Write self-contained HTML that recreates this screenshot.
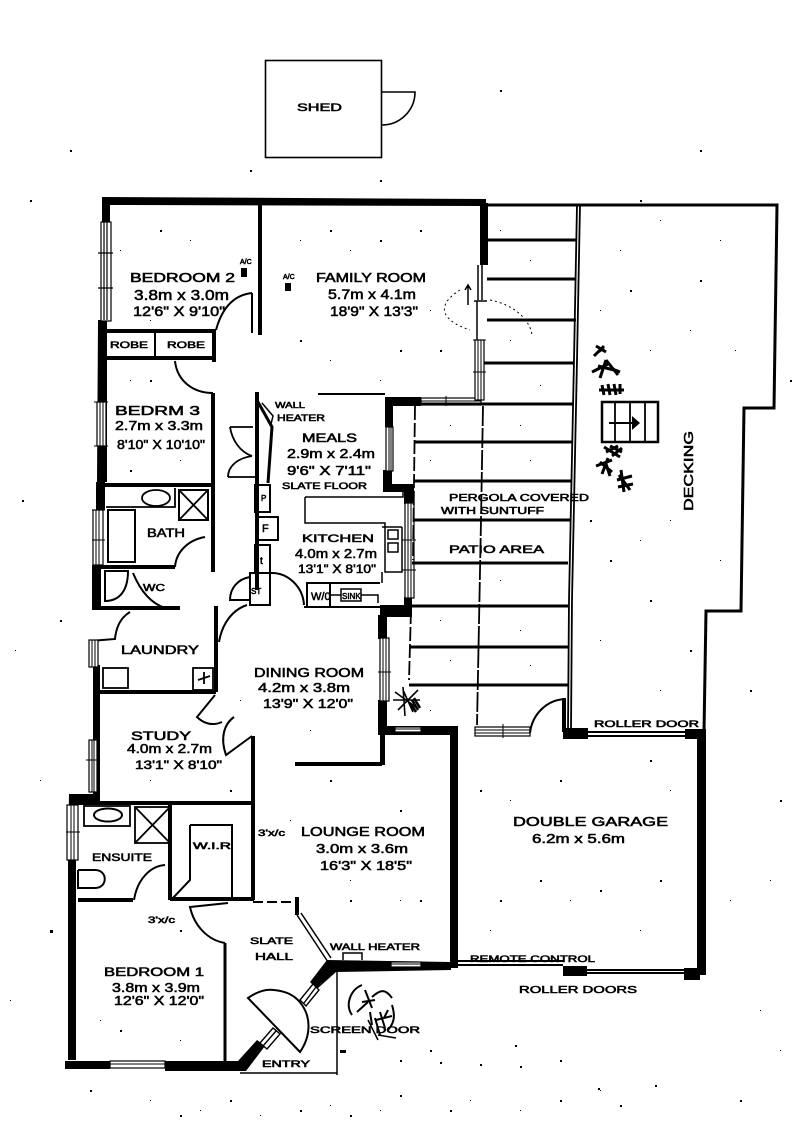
<!DOCTYPE html>
<html><head><meta charset="utf-8"><title>Floor plan</title>
<style>
html,body{margin:0;padding:0;background:#fff}
svg{display:block}
text{font-family:"Liberation Sans",sans-serif;font-weight:normal;fill:#000;stroke:#000;stroke-width:.55;text-anchor:start}
.w{fill:none;stroke:#000}
.win{fill:#fff;stroke:#000;stroke-width:1.2}
</style></head><body>
<svg xmlns="http://www.w3.org/2000/svg" width="800" height="1124" viewBox="0 0 800 1124">
<rect width="800" height="1124" fill="#fff"/>

<!-- shed -->
<g class="w" stroke-width="1.600">
<rect x="265.500" y="60.500" width="116" height="97"/>
<path d="M382 92H415A33 33 0 0 1 382 125"/>
</g>
<text x="297" y="111" font-size="11" textLength="45" lengthAdjust="spacingAndGlyphs">SHED</text>

<!-- thick outer walls -->
<g fill="#000">
<path d="M102 197L486 199V206L110 205V222H102Z"/>
<rect x="480" y="203" width="8" height="62"/>
<path d="M98 320H107V482H97Z"/>
<rect x="96" y="482" width="9" height="28"/>
<rect x="92" y="565" width="9" height="45"/>
<path d="M93 665H100V795H93Z"/>
<path d="M69 794H100V803H77V860H68Z"/>
<path d="M68 860H76V1060H68Z"/>
<path d="M65 1061H110V1069H65Z"/>
<path d="M165 1061H238L257 1040L265 1046L246 1071H165Z"/>
<path d="M327 960L451 962V970L336 972L317 989L310 982Z"/>
<rect x="450" y="733" width="8" height="235"/>
<rect x="378" y="726" width="80" height="9"/>
<rect x="378" y="700" width="9" height="30"/>
<rect x="378" y="615" width="9" height="24"/>
<path d="M380 605H412V617H380Z"/>
<rect x="404" y="490" width="9" height="14"/>
<rect x="404" y="597" width="8" height="12"/>
<path d="M383 470H392V484H414V492H383Z"/>
<rect x="385" y="405" width="8" height="22"/>
<path d="M385 397H421V406H385Z"/>
<rect x="563" y="728" width="25" height="11"/>
<rect x="685" y="729" width="21" height="10"/>
<rect x="697" y="735" width="9" height="240"/>
<rect x="563" y="966" width="24" height="10"/>
<rect x="684" y="968" width="16" height="12"/>
<rect x="295" y="762" width="87" height="4"/>
<rect x="380" y="735" width="5" height="30"/>
</g>

<!-- interior walls -->
<g class="w" stroke-width="4">
<path d="M260 205V335"/>
<path d="M105 331H216"/>
<path d="M107 358H216"/>
<path d="M214 330V362"/>
<path d="M213 393V572"/>
<path d="M102 485H213"/>
<path d="M92 567H175"/>
<path d="M95 608H180"/>
<path d="M100 692H216"/>
<path d="M216 606V692"/>
<path d="M70 803H254"/>
<path d="M253 736V900"/>
<path d="M170 804V900"/>
<path d="M170 899H254"/>
<path d="M78 900H133"/>
<path d="M297 897V915"/>
<path d="M257 392V590"/>
</g>

<!-- thin structure lines -->
<g class="w" stroke-width="2">
<path d="M155 332V357"/>
<path d="M252 293V333"/>
<path d="M216 330C222 308 234 295 252 293"/>
<path d="M175 361C177 380 192 393 213 393"/>
<path d="M175 567C176 552 188 540 205 537"/>
<path d="M133 573C140 590 150 603 165 608"/>
<path d="M247 605C232 610 222 624 219 642"/>
<path d="M130 612C120 618 116 628 115 639L90 641"/>
<path d="M215 695L197 717C204 724 213 726 222 722"/>
<path d="M234 717C224 724 220 738 226 755L252 736"/>
<path d="M190 825H232V900"/>
<path d="M190 825V880L172 899"/>
<path d="M134 900C137 880 150 866 165 865"/>
<path d="M228 903L190 907C194 925 207 940 225 943"/>
<path d="M225 943V1061" stroke-width="3"/>
<path d="M253 902H297" stroke-dasharray="10 4"/>
<path d="M297 915L328 962M301 913L331 958" stroke-width="1.500"/>
<path d="M337 972V1075M240 1073H337" stroke-width="1.500"/>
<path d="M343 960V953H362V960" stroke-width="1.500"/>
<path d="M318 394H385" stroke-width="2"/>
<path d="M258 402L272 427L268 483" stroke-width="3"/>
<path d="M262 403L273 416L271 424" stroke-width="1.500"/>
<path d="M230 427H253M230 427C232 440 240 452 252 456M228 477C228 466 238 458 252 456M228 477H255" stroke-width="1.800"/>
<rect x="255" y="485" width="15" height="27"/>
<rect x="257" y="517" width="21" height="23"/>
<rect x="255" y="545" width="15" height="28"/>
<path d="M250 573H270V605H250Z"/>
<path d="M250 577C238 579 230 588 230 600H250"/>
<path d="M270 573C288 572 303 587 304 605"/>
<path d="M304 607H380M307 583H380"/>
<rect x="307" y="583" width="23" height="24"/>
<rect x="341" y="589" width="20" height="12" stroke-width="1.500"/>
<path d="M330 595H341M361 595H378V603" stroke-width="1.500"/>
<path d="M305 497H403V490M305 497V523H385V572H402V527" stroke-width="1.500"/>
<path d="M382 527H402M382 572V583" stroke-width="1.500"/>
<rect x="388" y="530" width="10" height="9" stroke-width="1.500"/>
<rect x="388" y="543" width="10" height="9" stroke-width="1.500"/>
</g>

<!-- bathrooms -->
<g class="w" stroke-width="1.800">
<path d="M106 507H175V488"/>
<ellipse cx="156" cy="498" rx="14" ry="8"/>
<rect x="179" y="490" width="29" height="30" stroke-width="2"/>
<path d="M179 490L208 520M208 490L179 520"/>
<rect x="108" y="510" width="27" height="52" stroke-width="2"/>
<path d="M105 571H128C128 590 120 601 105 601Z" stroke-width="2"/>
<rect x="103" y="668" width="25" height="20"/>
<rect x="193" y="668" width="20" height="22"/>
<path d="M198 680L210 676M204 672V684"/>
<rect x="84" y="806" width="46" height="20"/>
<ellipse cx="108" cy="815" rx="14" ry="6.500" stroke-width="2"/>
<rect x="135" y="807" width="35" height="36"/>
<path d="M135 843L170 807M135 807L170 843"/>
<path d="M78 870H95C108 870 108 888 95 888H78V870" stroke-width="2"/>
</g>

<!-- windows -->
<g>
<rect class="win" x="101" y="222" width="10" height="99"/>
<path d="M104 222V320M107 222V320M98 253H113M98 288H113" stroke="#000" stroke-width="1.200"/>
<rect class="win" x="97" y="402" width="9" height="44"/>
<path d="M100 402V446M103 402V446M94 402H108M94 446H108" stroke="#000"/>
<rect class="win" x="93" y="510" width="10" height="55"/>
<path d="M96 510V565M99 510V565M92 540H105M92 510H105" stroke="#000"/>
<rect class="win" x="89" y="640" width="9" height="27"/>
<path d="M92 640V667M95 640V667" stroke="#000"/>
<rect class="win" x="89" y="740" width="8" height="52"/>
<path d="M92 740V792M94 740V792M86 760H100" stroke="#000"/>
<rect class="win" x="67" y="805" width="11" height="55"/>
<path d="M71 805V860M74 805V860M66 832H80" stroke="#000"/>
<rect class="win" x="110" y="1061" width="55" height="7"/>
<path d="M110 1064H165" stroke="#000"/>
<rect class="win" x="386" y="427" width="7" height="44"/>
<path d="M389 427V471M391 427V471" stroke="#000"/>
<rect class="win" x="405" y="503" width="9" height="95"/>
<path d="M408 503V598M411 503V598M402 540H416M402 570H416" stroke="#000"/>
<rect class="win" x="380" y="638" width="9" height="63"/>
<path d="M383 638V701M386 638V701M378 672H391" stroke="#000"/>
<rect class="win" x="421" y="398" width="60" height="7"/>
<path d="M421 401H481M446 396V406" stroke="#000"/>
<rect class="win" x="475" y="340" width="9" height="60"/>
<path d="M478 340V400M481 340V400M473 340H486M473 372H486" stroke="#000"/>
<path d="M478 265V300M482 265V300M474 301H487M477 301V340" fill="none" stroke="#000" stroke-width="1.500"/>
<rect class="win" x="395" y="727" width="26" height="5"/>
<path d="M395 729H421" stroke="#000"/>
<rect class="win" x="475" y="727" width="55" height="9"/>
<path d="M475 730H530M475 733H530M503 724V738" stroke="#000"/>
<rect class="win" x="391" y="962" width="30" height="5"/>
<path d="M391 964H421" stroke="#000"/>
<path d="M300 1000L313 984L319 990L306 1006Z M304 1003L316 987" fill="#fff" stroke="#000" stroke-width="1.400"/>
<path d="M260 1043L273 1028L280 1034L267 1049Z M263 1046L276 1031" fill="#fff" stroke="#000" stroke-width="1.400"/>
<path d="M248 998C258 991 266 989 274 990C286 991 296 996 302 1005C311 1018 311 1036 300 1052Z" fill="none" stroke="#000" stroke-width="2"/>
<path d="M587 732H685M587 736H685" stroke="#000" stroke-width="2"/>
<path d="M458 961H563M458 965H563M587 970H685M587 973H685" stroke="#000" stroke-width="2"/>
</g>

<!-- pergola -->
<g class="w" stroke-width="3">
<path d="M487 240H577M487 279H576M487 320H576M484 363H574"/>
<path d="M421 404H573M414 442H572M414 481H571M414 520H570"/>
<path d="M412 563H568M411 606H568M410 647H568M409 685H568"/>
</g>
<g class="w" stroke-width="1.800">
<path d="M577 205L574 360L569 600L568 730"/>
<path d="M580 205L577 360L572 600L571 730"/>
<path d="M415 406L413 560M411 610L409 680" stroke-dasharray="14 3"/>
<path d="M483 406L481 520L477 725" stroke-dasharray="20 2"/>
<path d="M486 205H777L774 408H744L741 611H706L704 732" stroke-width="3"/>
<path d="M530 733C532 715 546 700 565 699V732M563 698V732" stroke-width="2"/>
<path d="M468 286V305M465 290L468 285L471 290" stroke-width="1.500"/>
<path d="M460 290C436 305 440 320 470 330" stroke-width="1" stroke-dasharray="2 3"/>
<path d="M490 300C515 305 530 320 532 335" stroke-width="1" stroke-dasharray="2 3"/>
</g>

<!-- stairs -->
<g class="w" stroke-width="2.500">
<rect x="602" y="402" width="56" height="40"/>
<path d="M615 402V442M630 402V442M645 402V442" stroke-width="1.800"/>
<path d="M609 423H632" stroke-width="2"/>
</g>
<path d="M632 416L640 423L632 430Z" fill="#000"/>

<!-- plants -->
<g class="w" stroke-width="3">
<path d="M594 356L604 346M596 346L606 352M598 352L604 348"/>
<path d="M592 372L608 364M600 378L606 360M606 360L618 375M610 368L620 372M598 366L614 370"/>
<path d="M599 390L624 390M602 385L604 395M608 384L610 395M614 384L616 395M620 384L620 394"/>
<path d="M604 447L620 457M610 446L622 452M606 452L618 446M612 456L622 448"/>
<path d="M596 466L612 460M602 474L608 458M600 462L612 472M606 464L610 476"/>
<path d="M621 470L624 492M617 480L632 476M618 487L633 484M619 475L630 490"/>
<path d="M393 700L420 700M403 690L413 712M398 710L418 690M403 687L405 716M395 692L417 708" stroke-width="1.600"/>
<path d="M410 703L416 712M412 700L418 710M414 698L420 708" stroke-width="2.500"/>
<path d="M362 985C350 990 345 1005 352 1015M372 997C380 990 385 988 392 998M380 1012L385 1028M357 1012L368 1002M365 990L372 1008M362 1002L375 1000M370 1012L372 1025M376 1020L392 1016M384 1018L388 1010M375 1018L380 1035M392 1005C395 1015 395 1022 388 1030" stroke-width="2"/>
<path d="M368 1020L378 1040M378 1035L396 1038" stroke-width="1.500"/>
</g>

<!-- labels -->
<text x="130" y="282" font-size="13" textLength="105" lengthAdjust="spacingAndGlyphs">BEDROOM 2</text>
<text x="134" y="300" font-size="15" textLength="95" lengthAdjust="spacingAndGlyphs">3.8m x 3.0m</text>
<text x="133" y="316" font-size="14" textLength="92" lengthAdjust="spacingAndGlyphs">12'6" X 9'10"</text>
<text x="110" y="348" font-size="9" textLength="38" lengthAdjust="spacingAndGlyphs">ROBE</text>
<text x="167" y="348" font-size="9" textLength="38" lengthAdjust="spacingAndGlyphs">ROBE</text>
<text x="316" y="282" font-size="13" textLength="110" lengthAdjust="spacingAndGlyphs">FAMILY ROOM</text>
<text x="328" y="299" font-size="14" textLength="88" lengthAdjust="spacingAndGlyphs">5.7m x 4.1m</text>
<text x="330" y="316" font-size="14" textLength="88" lengthAdjust="spacingAndGlyphs">18'9" X 13'3"</text>
<text x="115" y="415" font-size="13" textLength="85" lengthAdjust="spacingAndGlyphs">BEDRM 3</text>
<text x="115" y="430" font-size="13" textLength="88" lengthAdjust="spacingAndGlyphs">2.7m x 3.3m</text>
<text x="117" y="449" font-size="13" textLength="88" lengthAdjust="spacingAndGlyphs">8'10" X 10'10"</text>
<text x="147" y="537" font-size="12" textLength="38" lengthAdjust="spacingAndGlyphs">BATH</text>
<text x="143" y="591" font-size="10" textLength="22" lengthAdjust="spacingAndGlyphs">WC</text>
<text x="121" y="654" font-size="12" textLength="78" lengthAdjust="spacingAndGlyphs">LAUNDRY</text>
<text x="275" y="408" font-size="8" textLength="30" lengthAdjust="spacingAndGlyphs">WALL</text>
<text x="277" y="421" font-size="9" textLength="48" lengthAdjust="spacingAndGlyphs">HEATER</text>
<text x="302" y="442" font-size="12" textLength="55" lengthAdjust="spacingAndGlyphs">MEALS</text>
<text x="287" y="458" font-size="13" textLength="88" lengthAdjust="spacingAndGlyphs">2.9m x 2.4m</text>
<text x="287" y="475" font-size="13" textLength="84" lengthAdjust="spacingAndGlyphs">9'6" X 7'11"</text>
<text x="282" y="489" font-size="9" textLength="85" lengthAdjust="spacingAndGlyphs">SLATE FLOOR</text>
<text x="302" y="542" font-size="11" textLength="72" lengthAdjust="spacingAndGlyphs">KITCHEN</text>
<text x="295" y="558" font-size="13" textLength="82" lengthAdjust="spacingAndGlyphs">4.0m x 2.7m</text>
<text x="298" y="573" font-size="12" textLength="78" lengthAdjust="spacingAndGlyphs">13'1" X 8'10"</text>
<text x="261" y="501" font-size="8">P</text>
<text x="262" y="532" font-size="11">F</text>
<text x="260" y="564" font-size="10">t</text>
<text x="251" y="594" font-size="8">ST</text>
<text x="311" y="600" font-size="11">W/0</text>
<text x="342" y="599" font-size="8">SINK</text>
<text x="254" y="677" font-size="13" textLength="110" lengthAdjust="spacingAndGlyphs">DINING ROOM</text>
<text x="258" y="692" font-size="13" textLength="92" lengthAdjust="spacingAndGlyphs">4.2m x 3.8m</text>
<text x="263" y="708" font-size="13" textLength="90" lengthAdjust="spacingAndGlyphs">13'9" X 12'0"</text>
<text x="131" y="740" font-size="12" textLength="60" lengthAdjust="spacingAndGlyphs">STUDY</text>
<text x="127" y="753" font-size="13" textLength="85" lengthAdjust="spacingAndGlyphs">4.0m x 2.7m</text>
<text x="135" y="769" font-size="12" textLength="87" lengthAdjust="spacingAndGlyphs">13'1" X 8'10"</text>
<text x="92" y="861" font-size="11" textLength="60" lengthAdjust="spacingAndGlyphs">ENSUITE</text>
<text x="193" y="849" font-size="9" textLength="38" lengthAdjust="spacingAndGlyphs">W.I.R</text>
<text x="301" y="836" font-size="13" textLength="124" lengthAdjust="spacingAndGlyphs">LOUNGE ROOM</text>
<text x="316" y="853" font-size="13" textLength="92" lengthAdjust="spacingAndGlyphs">3.0m x 3.6m</text>
<text x="320" y="870" font-size="13" textLength="92" lengthAdjust="spacingAndGlyphs">16'3" X 18'5"</text>
<text x="258" y="836" font-size="9" textLength="27" lengthAdjust="spacingAndGlyphs">3'x/c</text>
<text x="148" y="923" font-size="9" textLength="27" lengthAdjust="spacingAndGlyphs">3'x/c</text>
<text x="250" y="944" font-size="9" textLength="43" lengthAdjust="spacingAndGlyphs">SLATE</text>
<text x="255" y="960" font-size="10" textLength="38" lengthAdjust="spacingAndGlyphs">HALL</text>
<text x="330" y="950" font-size="9" textLength="90" lengthAdjust="spacingAndGlyphs">WALL HEATER</text>
<text x="104" y="976" font-size="12" textLength="100" lengthAdjust="spacingAndGlyphs">BEDROOM 1</text>
<text x="112" y="992" font-size="13" textLength="88" lengthAdjust="spacingAndGlyphs">3.8m x 3.9m</text>
<text x="114" y="1005" font-size="13" textLength="90" lengthAdjust="spacingAndGlyphs">12'6" X 12'0"</text>
<text x="310" y="1033" font-size="9" textLength="110" lengthAdjust="spacingAndGlyphs">SCREEN DOOR</text>
<text x="262" y="1067" font-size="9" textLength="48" lengthAdjust="spacingAndGlyphs">ENTRY</text>
<text x="513" y="826" font-size="13" textLength="155" lengthAdjust="spacingAndGlyphs">DOUBLE GARAGE</text>
<text x="532" y="843" font-size="13" textLength="93" lengthAdjust="spacingAndGlyphs">6.2m x 5.6m</text>
<text x="594" y="727" font-size="9" textLength="105" lengthAdjust="spacingAndGlyphs">ROLLER DOOR</text>
<text x="470" y="962" font-size="9" textLength="125" lengthAdjust="spacingAndGlyphs">REMOTE CONTROL</text>
<text x="519" y="993" font-size="10" textLength="118" lengthAdjust="spacingAndGlyphs">ROLLER DOORS</text>
<text x="449" y="501" font-size="10" textLength="140" lengthAdjust="spacingAndGlyphs">PERGOLA COVERED</text>
<text x="441" y="514" font-size="10" textLength="103" lengthAdjust="spacingAndGlyphs">WITH SUNTUFF</text>
<text x="449" y="553" font-size="11" textLength="95" lengthAdjust="spacingAndGlyphs">PATIO AREA</text>
<text transform="translate(693,511) rotate(-90)" font-size="13" textLength="80" lengthAdjust="spacingAndGlyphs">DECKING</text>
<text x="240" y="264" font-size="7">A/C</text>
<text x="283" y="279" font-size="7">A/C</text>
<rect x="241" y="268" width="6" height="9" fill="#000"/>
<rect x="285" y="283" width="6" height="8" fill="#000"/>

<!-- speckle -->
<path fill="#000" d="M70 150h2v2h-2zM30 200h2v2h-2zM380 180h2v2h-2zM700 150h2v2h-2zM22 500h2v2h-2zM60 620h2v2h-2zM50 930h3v3h-3zM780 800h2v2h-2zM740 1100h2v2h-2zM400 1095h2v2h-2zM300 1110h2v2h-2zM180 1115h2v2h-2zM560 1100h2v2h-2zM620 1105h2v2h-2zM655 1085h2v2h-2zM598 1088h2v2h-2zM515 1045h2v2h-2zM430 1050h2v2h-2zM790 380h2v2h-2zM750 690h2v2h-2zM640 200h2v2h-2zM250 170h2v2h-2zM500 90h2v2h-2zM610 560h2v2h-2zM650 600h2v2h-2zM690 650h2v2h-2zM625 720h2v2h-2zM590 520h2v2h-2zM700 280h2v2h-2zM630 290h2v2h-2zM540 880h2v2h-2zM600 890h2v2h-2zM660 880h2v2h-2zM500 900h2v2h-2zM480 790h2v2h-2zM560 780h2v2h-2zM650 760h2v2h-2zM330 230h2v2h-2zM380 240h2v2h-2zM420 230h2v2h-2zM300 340h2v2h-2zM400 350h2v2h-2zM440 350h2v2h-2zM160 230h2v2h-2zM150 380h2v2h-2zM130 470h2v2h-2zM230 790h2v2h-2zM330 780h2v2h-2zM400 810h2v2h-2zM420 900h2v2h-2zM350 900h2v2h-2zM180 930h2v2h-2zM120 1030h2v2h-2zM400 1060h2v2h-2zM440 1062h2v2h-2zM480 1064h2v2h-2zM520 1066h2v2h-2zM560 1060h2v2h-2zM230 1100h2v2h-2zM350 1115h2v2h-2zM450 1110h2v2h-2zM90 1090h2v2h-2zM340 1050h6v3h-6zM600 1090h1v1h-1zM620 250h1v1h-1zM660 220h1v1h-1zM720 240h1v1h-1zM690 330h1v1h-1zM735 350h1v1h-1zM650 350h1v1h-1zM600 310h1v1h-1zM670 520h1v1h-1zM720 560h1v1h-1zM640 540h1v1h-1zM600 640h1v1h-1zM660 690h1v1h-1zM500 230h1v1h-1zM530 260h1v1h-1zM510 340h1v1h-1zM540 385h1v1h-1zM520 425h1v1h-1zM450 425h1v1h-1zM430 460h1v1h-1zM530 460h1v1h-1zM500 580h1v1h-1zM440 620h1v1h-1zM520 630h1v1h-1zM450 660h1v1h-1zM530 665h1v1h-1zM430 710h1v1h-1zM510 800h1v1h-1zM600 820h1v1h-1zM670 790h1v1h-1zM490 930h1v1h-1zM570 900h1v1h-1zM640 930h1v1h-1zM120 250h1v1h-1zM190 240h1v1h-1zM150 320h1v1h-1zM300 240h1v1h-1zM350 250h1v1h-1zM430 310h1v1h-1zM330 360h1v1h-1zM380 380h1v1h-1zM130 380h1v1h-1zM180 460h1v1h-1zM240 700h1v1h-1zM310 730h1v1h-1zM150 780h1v1h-1zM290 820h1v1h-1zM350 880h1v1h-1zM400 900h1v1h-1zM180 1040h1v1h-1zM100 1020h1v1h-1zM10 1000h1v1h-1zM40 780h1v1h-1zM15 650h1v1h-1zM770 880h1v1h-1zM730 900h1v1h-1zM760 1010h1v1h-1zM780 1050h1v1h-1zM150 1100h1v1h-1zM200 1110h1v1h-1zM260 1115h1v1h-1zM330 1105h1v1h-1zM380 1110h1v1h-1zM470 1100h1v1h-1zM520 1110h1v1h-1z"/>
</svg>
</body></html>
